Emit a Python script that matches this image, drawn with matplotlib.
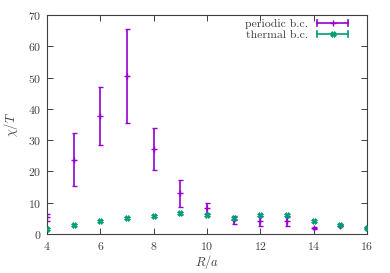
import matplotlib
matplotlib.use("Agg")
import matplotlib.pyplot as plt
from matplotlib.legend_handler import HandlerBase
from matplotlib.lines import Line2D

plt.rcParams['font.family'] = 'serif'
plt.rcParams['font.serif'] = ['cmr10', 'DejaVu Serif']
plt.rcParams['mathtext.fontset'] = 'cm'
plt.rcParams['axes.formatter.use_mathtext'] = True

# data
R_per = [4, 5, 6, 7, 8, 9, 10, 11, 12, 13, 14, 15, 16]
chi_per = [5.3, 23.8, 37.8, 50.5, 27.2, 13.0, 8.2, 4.4, 4.2, 4.0, 1.8, 2.7, 1.8]
err_per = [1.1, 8.5, 9.2, 15.0, 6.8, 4.3, 1.8, 1.2, 1.6, 1.3, 0.3, 0.3, 0.2]

R_th = [4, 5, 6, 7, 8, 9, 10, 11, 12, 13, 14, 15, 16]
chi_th = [1.6, 2.9, 4.1, 5.0, 5.75, 6.6, 6.1, 5.0, 6.0, 6.0, 4.1, 2.8, 1.9]
err_th = [0.3, 0.3, 0.3, 0.3, 0.4, 0.5, 0.4, 0.4, 0.4, 0.4, 0.4, 0.3, 0.3]

xticks = [4, 6, 8, 10, 12, 14, 16]
yticks = [0, 10, 20, 30, 40, 50, 60, 70]

c_per = '#9400D3'
c_th = '#009E73'
tcol = '#404040'

fig = plt.figure(figsize=(3.9, 2.73), dpi=100)
ax = fig.add_axes([0.1205, 0.1429, 0.8205, 0.802])

ax.errorbar(R_per, chi_per, yerr=err_per, fmt='+', color=c_per, ms=4, mew=1.0,
            elinewidth=1.2, capsize=1.8, capthick=1.2, label='periodic b.c.', zorder=2)
ax.errorbar(R_th, chi_th, yerr=err_th, fmt='X', color=c_th, ms=4, mew=0.5,
            elinewidth=1.2, capsize=1.8, capthick=1.2, label='thermal b.c.', zorder=3)

ax.set_xlim(4, 16)
ax.set_ylim(0, 70)
ax.set_xticks(xticks)
ax.set_yticks(yticks)
ax.tick_params(direction='in', top=True, right=True, length=4, width=0.7,
               labelsize=8.5, colors=tcol, labelcolor=tcol, pad=4)
for s in ax.spines.values():
    s.set_color(tcol)
    s.set_linewidth(0.8)

ax.set_xlabel(r'$R/a$', fontsize=9, color=tcol, labelpad=1)
ax.set_ylabel(r'$\chi/T$', fontsize=9, color=tcol, labelpad=6)


class HandlerGP(HandlerBase):
    def __init__(self, color, marker):
        super().__init__()
        self.color = color
        self.marker = marker

    def create_artists(self, legend, orig_handle, xdescent, ydescent, width,
                       height, fontsize, trans):
        y = height / 2 - ydescent
        x0, x1 = -xdescent, -xdescent + width
        line = Line2D([x0, x1], [y, y], color=self.color, lw=1.2, transform=trans)
        c0 = Line2D([x0, x0], [y - 2.2, y + 2.2], color=self.color, lw=1.2, transform=trans)
        c1 = Line2D([x1, x1], [y - 2.2, y + 2.2], color=self.color, lw=1.2, transform=trans)
        m = Line2D([(x0 + x1) / 2], [y], marker=self.marker, color=self.color,
                   ms=4, mew=1.0 if self.marker == '+' else 0.5, transform=trans)
        return [line, c0, c1, m]


h, l = ax.get_legend_handles_labels()
leg = ax.legend(h, l, loc='upper right', frameon=False, markerfirst=False,
                fontsize=8.5, handlelength=2.7, handletextpad=0.7,
                borderaxespad=0.0, borderpad=0.35, labelspacing=0.05,
                bbox_to_anchor=(0.955, 1.0),
                handler_map={h[0]: HandlerGP(c_per, '+'), h[1]: HandlerGP(c_th, 'X')})
for t in leg.get_texts():
    t.set_color(tcol)
    t.set_ha('right')

fig.savefig('out.png', dpi=100)
